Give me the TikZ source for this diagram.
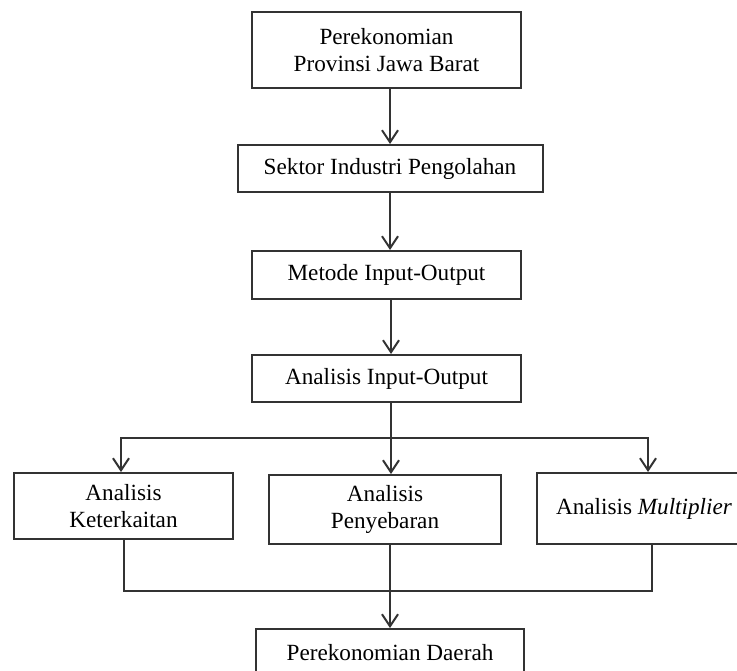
\documentclass[tikz,border=0pt]{standalone}
\usepackage{fontspec}
\setmainfont{Liberation Serif}
\usetikzlibrary{arrows.meta}

\begin{document}
\begin{tikzpicture}[x=0.5pt, y=-0.5pt,
    box/.style={draw=black!80, line width=1pt, fill=white, align=center,
      inner sep=2pt, font=\fontsize{11.6}{13.2}\selectfont},
    arr/.style={draw=black!80, line width=1pt, -{Straight Barb[length=6pt,width=8pt]}},
    garis/.style={draw=black!80, line width=1pt}]
  \useasboundingbox (0,0) rectangle (737,670);
  \fill[white] (0,0) rectangle (737,670);
  \clip (0,0) rectangle (737,670);
  \node[box, minimum width=134.5pt, minimum height=38pt] (ekonomi) at (386.5,50) {Perekonomian\\Provinsi Jawa Barat};
  \node[box, minimum width=152.5pt, minimum height=23.5pt] (sektor) at (390,168.5) {Sektor Industri Pengolahan};
  \node[box, minimum width=134.5pt, minimum height=24pt] (metode) at (386.5,275) {Metode Input-Output};
  \node[box, minimum width=134.5pt, minimum height=23.5pt] (analisis) at (386.5,378.5) {Analisis Input-Output};
  \node[box, minimum width=109.5pt, minimum height=33pt] (kait) at (123.5,506) {Analisis\\Keterkaitan};
  \node[box, minimum width=116pt, minimum height=34.5pt] (sebar) at (385,509.5) {Analisis\\Penyebaran};
  \node[box, minimum width=107pt, minimum height=35.5pt] (multi) at (644,508.5) {Analisis \textit{Multiplier}};
  \node[box, minimum width=134pt, minimum height=23.5pt] (daerah) at (390,652.5) {Perekonomian Daerah};
  \coordinate (pisah) at (391,438);
  \coordinate (gabung) at (390,591);
  \draw[arr] (ekonomi.south -| sektor) -- (sektor.north);
  \draw[arr] (sektor.south) -- (metode.north -| sektor);
  \draw[arr] (metode.south -| pisah) -- (analisis.north -| pisah);
  \draw[garis] (analisis.south -| pisah) -- (pisah);
  \draw[arr] (pisah) -| ([xshift=-1.25pt]kait.north);
  \draw[arr] (pisah) -- (sebar.north -| pisah);
  \draw[arr] (pisah) -| ([xshift=2pt]multi.north);
  \draw[garis] (kait.south) |- (gabung);
  \draw[garis] ([xshift=4pt]multi.south) |- (gabung);
  \draw[arr] (sebar.south -| gabung) -- (daerah.north);
\end{tikzpicture}
\end{document}
